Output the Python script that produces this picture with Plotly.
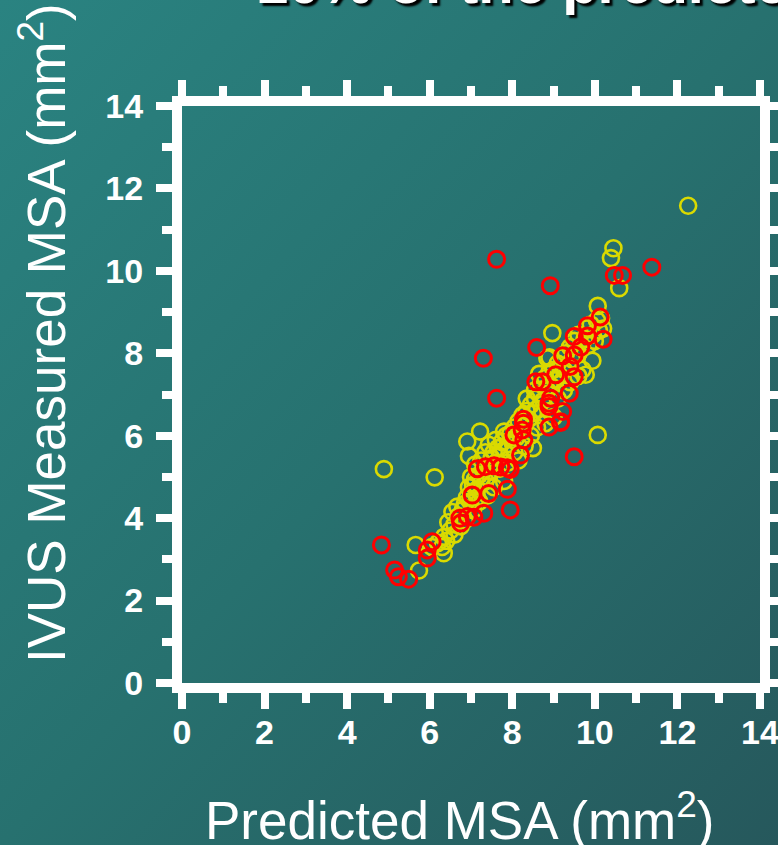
import base64
import plotly.graph_objects as go

# ---------------- data ----------------
yellow_x = [12.26, 10.45, 10.39, 10.59, 10.07, 10.15, 8.97, 8.85, 9.94, 9.78, 10.07, 4.89, 6.12,
            7.22, 6.91, 7.43, 6.95, 5.66, 6.34, 5.74, 6.67, 10.0, 10.2, 9.6,
            6.05, 6.2, 6.35, 6.5, 6.45, 6.6, 6.7, 6.55, 6.8,
            6.85, 6.9, 7.0, 6.95, 7.05, 7.1, 7.15, 7.2, 7.25, 7.3, 7.0, 7.1, 7.25, 7.35, 6.98, 7.15,
            7.4, 7.45, 7.5, 7.55, 7.6, 7.65, 7.7, 7.75, 7.8, 7.85, 7.9, 7.95, 8.0, 7.6, 7.8, 7.5, 7.7, 7.9, 7.35, 7.55, 7.8,
            8.05, 8.1, 8.15, 8.2, 8.25, 8.3, 8.35, 8.4, 8.45, 8.5, 8.55, 8.6, 8.05, 8.3, 8.45, 8.6, 8.15, 8.5, 8.35, 8.55,
            8.65, 8.7, 8.75, 8.8, 8.85, 8.9, 8.95, 9.0, 9.05, 9.1, 9.15, 9.2, 9.25, 9.3, 8.7, 8.9, 9.1, 9.25, 8.8, 9.0, 8.65, 8.9,
            9.35, 9.4, 9.45, 9.5, 9.55, 9.6, 9.65, 9.7, 9.75, 9.8, 9.85, 9.9, 9.95, 10.05, 10.1, 9.4, 9.6,
            6.4, 6.6, 6.75, 6.85, 7.05, 7.2, 7.4, 6.3]
yellow_y = [11.58, 10.55, 10.31, 9.58, 9.15, 8.85, 8.49, 7.88, 7.82, 7.48, 6.02, 5.19, 4.99,
            6.10, 5.86, 5.78, 5.51, 3.35, 3.15, 2.73, 4.28, 8.3, 8.6, 8.0,
            3.3, 3.4, 3.55, 3.7, 3.9, 3.85, 4.05, 4.15, 4.2,
            4.35, 4.5, 4.6, 4.75, 4.8, 4.95, 4.7, 5.05, 4.85, 5.15, 5.0, 5.3, 5.4, 5.6, 4.4, 4.5,
            5.0, 5.25, 5.45, 5.6, 5.35, 5.7, 5.5, 5.85, 5.65, 6.0, 5.8, 6.05, 5.9, 5.9, 6.1, 5.15, 5.2, 5.35, 4.9, 4.75, 4.9,
            6.2, 5.95, 6.35, 6.1, 6.5, 6.25, 6.6, 6.4, 6.75, 6.55, 6.9, 6.65, 5.6, 5.75, 6.0, 6.2, 5.4, 5.7, 6.9, 7.1,
            7.0, 7.25, 6.85, 7.4, 7.1, 7.55, 7.2, 7.6, 7.35, 7.75, 7.45, 7.9, 7.6, 8.0, 6.5, 6.6, 6.9, 7.1, 6.3, 6.45, 7.5, 7.9,
            7.7, 8.15, 7.85, 8.3, 8.0, 8.45, 8.15, 7.6, 8.35, 8.6, 8.2, 8.7, 8.45, 8.8, 8.55, 7.3, 7.45,
            3.45, 3.6, 3.8, 3.95, 4.2, 4.4, 4.55, 3.3]

red_x = [7.62, 8.92, 11.38, 10.47, 10.67, 7.30, 7.62, 8.59, 10.13, 9.82, 10.20, 9.50, 9.82, 9.22, 9.50,
         9.66, 9.40, 9.50, 9.05, 8.57, 8.73, 9.38, 8.93, 8.89, 9.22, 9.17, 8.89, 9.50, 8.27, 8.24, 8.04,
         8.28, 8.20, 8.27, 7.15, 7.35, 7.56, 7.72, 7.88, 7.95, 7.03, 7.43, 7.88, 7.95, 7.31, 6.73, 6.75,
         6.91, 7.07, 6.06, 5.94, 5.94, 4.83, 5.15, 5.24, 5.49, 8.89, 9.17]
red_y = [10.28, 9.64, 10.09, 9.89, 9.89, 7.88, 6.91, 8.14, 8.88, 8.67, 8.34, 8.41, 8.42, 7.94, 7.96,
         8.15, 7.68, 7.43, 7.48, 7.31, 7.31, 7.03, 6.91, 6.71, 6.59, 6.32, 6.21, 5.49, 6.40, 6.14, 6.02,
         5.90, 5.53, 6.30, 5.20, 5.25, 5.27, 5.24, 5.22, 5.18, 4.56, 4.60, 4.70, 4.20, 4.12, 4.00, 3.88,
         4.04, 4.02, 3.43, 3.23, 3.03, 3.35, 2.74, 2.58, 2.52, 6.79, 6.34]

tick_vals = [0, 2, 4, 6, 8, 10, 12, 14]
tick_text = ["0", "2", "4", "6", "8", "10", "12", "14"]
minor_vals = [0, 1, 2, 3, 4, 5, 6, 7, 8, 9, 10, 11, 12, 13, 14]

title_text = "10% of the predicted"
x_title = "Predicted MSA (mm<sup>2</sup>)"
y_title = "IVUS Measured MSA (mm<sup>2</sup>)"

# ---------------- layout geometry ----------------
W, H = 778, 845
ML, MR, MT, MB = 182, 18, 106, 162
PW, PH = W - ML - MR, H - MT - MB

svg = ('<svg xmlns="http://www.w3.org/2000/svg" width="778" height="845">'
       '<defs><linearGradient id="g" x1="0" y1="0" x2="1" y2="1">'
       '<stop offset="0" stop-color="#2a8381"/>'
       '<stop offset="0.5" stop-color="#27716f"/>'
       '<stop offset="1" stop-color="#26585c"/>'
       '</linearGradient></defs>'
       '<rect width="778" height="845" fill="url(#g)"/></svg>')
bg_src = "data:image/svg+xml;base64," + base64.b64encode(svg.encode()).decode()

fig = go.Figure()
fig.add_trace(go.Scatter(
    x=yellow_x, y=yellow_y, mode="markers", cliponaxis=False,
    marker=dict(symbol="circle-open", size=16, color="#dada00", line=dict(width=2.6, color="#dada00")),
    showlegend=False, hoverinfo="skip"))
fig.add_trace(go.Scatter(
    x=red_x, y=red_y, mode="markers", cliponaxis=False,
    marker=dict(symbol="circle-open", size=16, color="#ff0000", line=dict(width=3, color="#ff0000")),
    showlegend=False, hoverinfo="skip"))

axis_common = dict(
    range=[0, 14], tickvals=tick_vals, ticktext=tick_text, automargin=False,
    ticklabeloverflow="allow",
    ticks="outside", ticklen=16, tickwidth=8, tickcolor="white",
    showline=True, linewidth=10, linecolor="white", mirror="allticks",
    minor=dict(tickvals=minor_vals, ticks="outside", ticklen=10, tickwidth=8, tickcolor="white"),
    showgrid=False, zeroline=False, fixedrange=True,
    tickfont=dict(family="Arial", size=34, color="white", weight="bold"),
)
fig.update_xaxes(**axis_common, ticklabelstandoff=-6)
fig.update_yaxes(**axis_common, ticklabelstandoff=6)

fig.update_layout(
    width=W, height=H, template="none",
    margin=dict(l=ML, r=MR, t=MT, b=MB, pad=0, autoexpand=False),
    paper_bgcolor="#27706f", plot_bgcolor="rgba(0,0,0,0)",
    images=[dict(source=bg_src, xref="paper", yref="paper",
                 x=-ML / PW, y=1 + MT / PH, sizex=W / PW, sizey=H / PH,
                 xanchor="left", yanchor="top", sizing="stretch", layer="below")],
    annotations=[
        dict(text=title_text, xref="paper", yref="paper",
             x=(254 - ML) / PW, y=1 + (MT - 17) / PH, xanchor="left", yanchor="bottom",
             showarrow=False,
             font=dict(family="Arial", size=58, color="white", weight="bold",
                       shadow="3px 3px 2px #000000")),
        dict(text=x_title, xref="paper", yref="paper",
             x=(460 - ML) / PW, y=-(816 - MT - PH) / PH, xanchor="center", yanchor="middle",
             showarrow=False, font=dict(family="Arial", size=53, color="white")),
        dict(text=y_title, xref="paper", yref="paper", textangle=-90,
             x=(42 - ML) / PW, y=1 - (333 - MT) / PH, xanchor="center", yanchor="middle",
             showarrow=False, font=dict(family="Arial", size=53, color="white")),
    ],
)

fig.write_html("out.html", config={"displayModeBar": False, "staticPlot": True},
               post_script="document.body.style.margin='0px';document.body.style.overflow='hidden';")
